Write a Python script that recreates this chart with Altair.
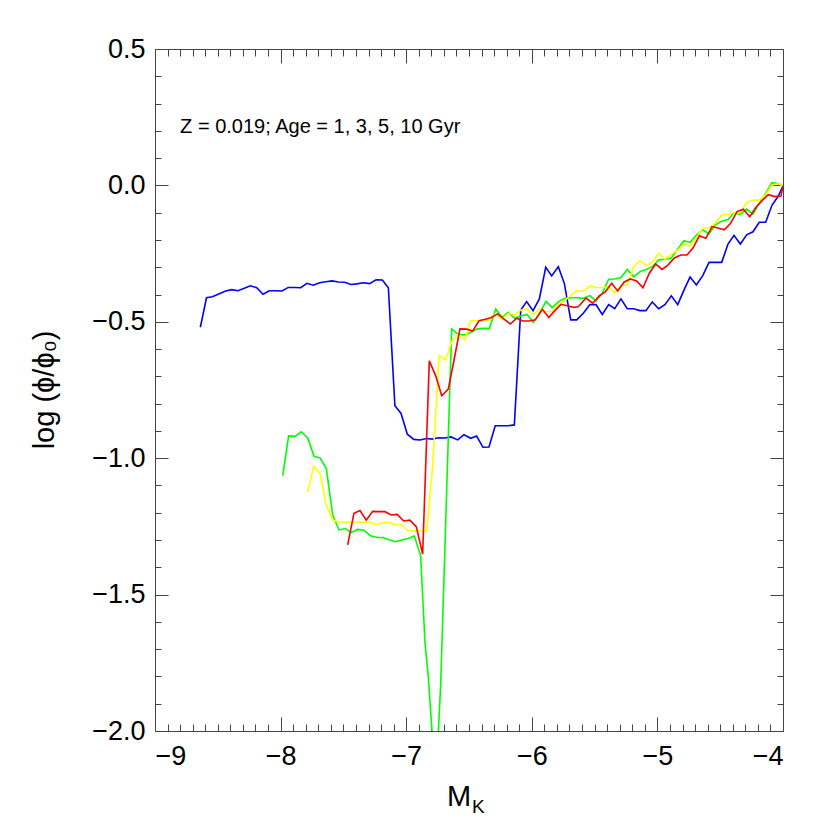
import altair as alt
import pandas as pd

# ---------------- data ----------------
blue_x = [-8.639, -8.590, -8.544, -8.488, -8.437, -8.389, -8.339, -8.289, -8.241, -8.190,
          -8.140, -8.090, -8.040, -7.989, -7.939, -7.888, -7.840, -7.790, -7.740, -7.689,
          -7.639, -7.590, -7.540, -7.490, -7.440, -7.392, -7.342, -7.291, -7.240, -7.190,
          -7.142, -7.090, -7.041, -6.991, -6.940, -6.890, -6.840, -6.789, -6.744, -6.691,
          -6.643, -6.590, -6.540, -6.486, -6.439, -6.389, -6.341, -6.291, -6.240, -6.189,
          -6.139, -6.088, -6.041, -5.990, -5.940, -5.889, -5.842, -5.789, -5.741, -5.690,
          -5.642, -5.590, -5.537, -5.489, -5.439, -5.388, -5.340, -5.290, -5.240, -5.189,
          -5.139, -5.091, -5.041, -4.990, -4.940, -4.889, -4.838, -4.788, -4.740, -4.690,
          -4.639, -4.589, -4.539, -4.488, -4.438, -4.390, -4.340, -4.289, -4.239, -4.189,
          -4.138, -4.088, -4.037, -4.000]
blue_y = [-0.520, -0.412, -0.408, -0.397, -0.387, -0.382, -0.386, -0.377, -0.368, -0.375,
          -0.399, -0.386, -0.386, -0.387, -0.374, -0.374, -0.375, -0.359, -0.366, -0.357,
          -0.353, -0.350, -0.354, -0.355, -0.363, -0.361, -0.357, -0.360, -0.346, -0.347,
          -0.375, -0.808, -0.836, -0.912, -0.931, -0.933, -0.928, -0.930, -0.925, -0.926,
          -0.922, -0.933, -0.914, -0.927, -0.919, -0.960, -0.959, -0.881, -0.881, -0.881,
          -0.878, -0.457, -0.426, -0.459, -0.416, -0.300, -0.332, -0.298, -0.359, -0.493,
          -0.493, -0.469, -0.437, -0.437, -0.473, -0.437, -0.452, -0.416, -0.452, -0.452,
          -0.459, -0.459, -0.427, -0.452, -0.437, -0.405, -0.437, -0.383, -0.336, -0.365,
          -0.331, -0.282, -0.282, -0.282, -0.215, -0.183, -0.215, -0.181, -0.170, -0.135,
          -0.135, -0.073, -0.039, -0.002]

green_x = [-7.983, -7.936, -7.885, -7.835, -7.784, -7.734, -7.686, -7.636, -7.585, -7.535,
           -7.487, -7.437, -7.386, -7.336, -7.286, -7.235, -7.185, -7.137, -7.087, -7.036,
           -6.986, -6.935, -6.885, -6.850, -6.824, -6.765, -6.725, -6.638,
           -6.585, -6.532, -6.487, -6.434, -6.386, -6.338, -6.287, -6.237, -6.187, -6.136,
           -6.088, -6.038, -5.988, -5.937, -5.887, -5.837, -5.786, -5.736, -5.686, -5.642,
           -5.590, -5.537, -5.489, -5.439, -5.388, -5.340, -5.290, -5.240, -5.189, -5.139,
           -5.091, -5.041, -4.990, -4.940, -4.889, -4.838, -4.788, -4.740, -4.690, -4.639,
           -4.589, -4.539, -4.488, -4.438, -4.390, -4.340, -4.289, -4.239, -4.189, -4.138,
           -4.088, -4.037, -4.000]
green_y = [-1.064, -0.918, -0.920, -0.903, -0.926, -0.993, -0.999, -1.038, -1.208, -1.263,
           -1.258, -1.272, -1.261, -1.264, -1.284, -1.290, -1.291, -1.299, -1.306, -1.300,
           -1.294, -1.285, -1.357, -1.679, -1.801, -2.200, -1.825, -0.526,
           -0.546, -0.548, -0.539, -0.526, -0.524, -0.525, -0.453, -0.484, -0.465, -0.487,
           -0.479, -0.473, -0.502, -0.467, -0.425, -0.448, -0.426, -0.414, -0.412, -0.412,
           -0.414, -0.404, -0.424, -0.396, -0.344, -0.343, -0.338, -0.308, -0.335, -0.316,
           -0.308, -0.298, -0.273, -0.271, -0.266, -0.233, -0.203, -0.209, -0.183, -0.163,
           -0.178, -0.145, -0.131, -0.125, -0.100, -0.106, -0.087, -0.106, -0.066, -0.030,
           0.010, 0.006, 0.000]

yellow_x = [-7.784, -7.736, -7.686, -7.636, -7.585, -7.535, -7.487, -7.437, -7.386, -7.336,
            -7.286, -7.235, -7.185, -7.137, -7.087, -7.036, -6.986, -6.935, -6.885, -6.837,
            -6.792, -6.737, -6.686, -6.638, -6.585, -6.532, -6.487, -6.434, -6.386, -6.338,
            -6.287, -6.237, -6.187, -6.136, -6.088, -6.038, -5.988, -5.937, -5.887, -5.837,
            -5.786, -5.741, -5.688, -5.642, -5.590, -5.537, -5.489, -5.439, -5.388, -5.340,
            -5.290, -5.240, -5.189, -5.139, -5.091, -5.041, -4.990, -4.940, -4.889, -4.838,
            -4.788, -4.740, -4.690, -4.639, -4.589, -4.539, -4.488, -4.438, -4.390, -4.340,
            -4.289, -4.239, -4.189, -4.138, -4.088, -4.037, -4.000]
yellow_y = [-1.124, -1.029, -1.056, -1.172, -1.227, -1.234, -1.235, -1.234, -1.235, -1.234,
            -1.235, -1.244, -1.236, -1.235, -1.244, -1.244, -1.266, -1.266, -1.267, -1.267,
            -1.043, -0.624, -0.640, -0.573, -0.546, -0.567, -0.496, -0.496, -0.496, -0.493,
            -0.469, -0.491, -0.469, -0.475, -0.457, -0.453, -0.473, -0.453, -0.463, -0.463,
            -0.438, -0.423, -0.402, -0.386, -0.388, -0.370, -0.374, -0.374, -0.371, -0.394,
            -0.368, -0.365, -0.298, -0.276, -0.294, -0.282, -0.249, -0.271, -0.252, -0.237,
            -0.215, -0.222, -0.194, -0.156, -0.156, -0.139, -0.109, -0.106, -0.100, -0.100,
            -0.063, -0.054, -0.054, -0.035, 0.002, 0.006, 0.000]

red_x = [-7.466, -7.416, -7.368, -7.318, -7.267, -7.219, -7.169, -7.119, -7.071, -7.020,
         -6.970, -6.920, -6.869, -6.816, -6.765, -6.717, -6.665, -6.619, -6.572, -6.518,
         -6.471, -6.420, -6.370, -6.322, -6.272, -6.221, -6.171, -6.120, -6.072, -6.022,
         -5.972, -5.916, -5.865, -5.818, -5.768, -5.717, -5.667, -5.630, -5.568, -5.515,
         -5.463, -5.415, -5.364, -5.316, -5.266, -5.216, -5.165, -5.115, -5.064, -5.014,
         -4.963, -4.916, -4.865, -4.815, -4.764, -4.714, -4.666, -4.615, -4.565, -4.518,
         -4.467, -4.417, -4.366, -4.316, -4.265, -4.215, -4.167, -4.117, -4.066, -4.016,
         -4.000]
red_y = [-1.318, -1.202, -1.192, -1.227, -1.195, -1.196, -1.196, -1.208, -1.206, -1.230,
         -1.227, -1.251, -1.351, -0.643, -0.698, -0.771, -0.747, -0.640, -0.526, -0.527,
         -0.534, -0.496, -0.491, -0.484, -0.471, -0.490, -0.508, -0.487, -0.497, -0.497,
         -0.493, -0.454, -0.484, -0.460, -0.436, -0.441, -0.447, -0.445, -0.413, -0.432,
         -0.405, -0.390, -0.359, -0.387, -0.355, -0.343, -0.350, -0.375, -0.322, -0.288,
         -0.308, -0.292, -0.266, -0.255, -0.255, -0.228, -0.185, -0.194, -0.151, -0.156,
         -0.163, -0.139, -0.096, -0.087, -0.115, -0.080, -0.056, -0.034, -0.041, -0.039,
         -0.002]

series_names = ["1 blue", "2 green", "3 yellow", "4 red"]
series_colors = ["#0000ff", "#00ff00", "#ffff00", "#ff0000"]

x_major = [-9, -8, -7, -6, -5, -4]
y_major = [-2.0, -1.5, -1.0, -0.5, 0.0, 0.5]
x_minor = [v / 10 for v in range(-90, -39) if v % 10 != 0]
y_minor = [v / 10 for v in range(-20, 6) if v % 5 != 0]

annotation = "Z = 0.019; Age = 1, 3, 5, 10 Gyr"
y_title = "log (\u03d5/\u03d5\u2080)"

# ---------------- build table ----------------
rows = []
for name, xs, ys in zip(series_names,
                        [blue_x, green_x, yellow_x, red_x],
                        [blue_y, green_y, yellow_y, red_y]):
    for i, (xv, yv) in enumerate(zip(xs, ys)):
        rows.append({"series": name, "mk": xv, "logphi": yv, "idx": i})
df = pd.DataFrame(rows)

W, H = 628, 682
FONT = "Liberation Sans"
TC = "#444444"

xscale = alt.Scale(domain=[-9, -4], nice=False, zero=False)
yscale = alt.Scale(domain=[-2.0, 0.5], nice=False, zero=False)
minus_expr = "replace(datum.label, '-', '\u2212')"

lines = alt.Chart(df).mark_line(strokeWidth=1.6, clip=True).encode(
    x=alt.X("mk:Q", scale=xscale,
            axis=alt.Axis(orient="bottom", values=x_major, format="d", labelExpr=minus_expr,
                          ticks=False, tickSize=0, domain=False, grid=False, title=None,
                          labelFont=FONT, labelFontSize=27, labelColor="black",
                          labelPadding=12)),
    y=alt.Y("logphi:Q", scale=yscale,
            axis=alt.Axis(orient="left", values=y_major, format=".1f", labelExpr=minus_expr,
                          ticks=False, tickSize=0, domain=False, grid=False, title=None,
                          labelFont=FONT, labelFontSize=27, labelColor="black",
                          labelPadding=10)),
    color=alt.Color("series:N", scale=alt.Scale(domain=series_names, range=series_colors),
                    legend=None),
    order="idx:Q",
)


def tick_layer(xorient, yorient, xvals, yvals, xlen, ylen):
    return alt.Chart(df).mark_line(strokeOpacity=0).encode(
        x=alt.X("mk:Q", scale=xscale,
                axis=alt.Axis(orient=xorient, values=xvals, tickSize=xlen, offset=-xlen,
                              labels=False, domain=False, grid=False, title=None,
                              tickColor=TC, tickWidth=1)),
        y=alt.Y("logphi:Q", scale=yscale,
                axis=alt.Axis(orient=yorient, values=yvals, tickSize=ylen, offset=-ylen,
                              labels=False, domain=False, grid=False, title=None,
                              tickColor=TC, tickWidth=1)),
        detail="series:N",
    )


ticks = [
    tick_layer("bottom", "left", x_major, y_major, 14, 13),
    tick_layer("bottom", "left", x_minor, y_minor, 7, 6),
    tick_layer("top", "right", x_major, y_major, 14, 13),
    tick_layer("top", "right", x_minor, y_minor, 7, 6),
]

ann = alt.Chart(pd.DataFrame({"x": [-8.80], "y": [0.214], "t": [annotation]})).mark_text(
    align="left", baseline="middle", font=FONT, fontSize=20, color="black"
).encode(
    x=alt.X("x:Q", scale=xscale, axis=None),
    y=alt.Y("y:Q", scale=yscale, axis=None),
    text="t:N",
)

ytitle = alt.Chart(pd.DataFrame({"t": [y_title]})).mark_text(
    angle=270, align="center", baseline="middle", font=FONT, fontSize=29, color="black"
).encode(x=alt.value(-110), y=alt.value(H / 2), text="t:N")

xtitle_m = alt.Chart(pd.DataFrame({"t": ["M"]})).mark_text(
    align="center", baseline="alphabetic", font=FONT, fontSize=29, color="black"
).encode(x=alt.value(304), y=alt.value(757), text="t:N")

xtitle_k = alt.Chart(pd.DataFrame({"t": ["K"]})).mark_text(
    align="left", baseline="alphabetic", font=FONT, fontSize=19, color="black"
).encode(x=alt.value(317), y=alt.value(764), text="t:N")

chart = alt.layer(lines, *ticks, ann, ytitle, xtitle_m, xtitle_k).resolve_axis(
    x="independent", y="independent"
).properties(
    width=W, height=H,
    autosize=alt.AutoSizeParams(type="none"),
    padding={"left": 147, "top": 41, "right": 30, "bottom": 100},
    background="white",
).configure_view(stroke=TC, strokeWidth=1)

chart.save("out.html", embed_options={"renderer": "svg", "actions": False})
